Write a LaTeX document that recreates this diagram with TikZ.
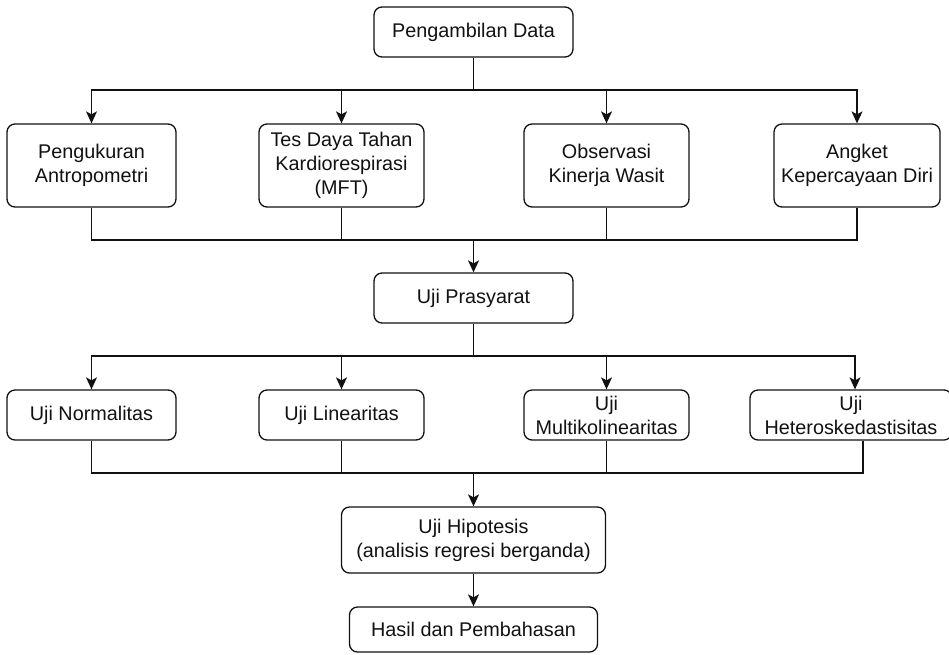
\documentclass[tikz,border=0pt]{standalone}
\usepackage{fontspec}
\setmainfont{Liberation Sans}
\usetikzlibrary{positioning,arrows.meta}
\definecolor{hitam}{HTML}{111111}

\begin{document}
\begin{tikzpicture}[x=1pt, y=-1pt, font=\fontsize{19.8}{24}\selectfont, hitam,
    kotak/.style={draw, line width=1.3pt, rounded corners=8pt, align=center, inner sep=0pt},
    panah/.style={-{Stealth[length=12pt,width=11pt,inset=3pt]}, line width=1.3pt},
    garis/.style={line width=1.3pt}]
        \useasboundingbox (0,0) rectangle (949,654);
        % tahap awal
        \node[kotak, minimum width=199pt, minimum height=50pt] (data) at (473.5,32) {Pengambilan Data};
        \node[kotak, minimum width=169pt, minimum height=83pt] (ukur) at (91.5,165.5) {Pengukuran\\Antropometri};
        \node[kotak, minimum width=165pt, minimum height=83pt] (tes) at (341.5,165.5) {Tes Daya Tahan\\Kardiorespirasi\\(MFT)};
        \node[kotak, minimum width=165pt, minimum height=83pt] (obs) at (606.5,165.5) {Observasi\\Kinerja Wasit};
        \node[kotak, minimum width=166pt, minimum height=83pt] (angket) at (857,165.5) {Angket\\Kepercayaan Diri};
        \coordinate (s1) at (473.5,90);
        \coordinate (m1) at (473.5,240);
        \draw[garis] (data) -- (s1);
        \foreach \n in {ukur,tes,obs,angket} {
            \draw[panah] (s1) -| (\n);
            \draw[garis] (\n.south) |- (m1);
        }
        % uji prasyarat
        \node[kotak, minimum width=199pt, minimum height=50pt] (prasyarat) at (473.5,298) {Uji Prasyarat};
        \draw[panah] (m1) -- (prasyarat);
        \node[kotak, minimum width=169pt, minimum height=50pt] (normal) at (91.5,415) {Uji Normalitas};
        \node[kotak, minimum width=165pt, minimum height=50pt] (linear) at (341.5,415) {Uji Linearitas};
        \node[kotak, minimum width=165pt, minimum height=50pt] (multi) at (606.5,415) {Uji\\Multikolinearitas};
        \node[kotak, minimum width=202pt, minimum height=50pt] (hetero) at (851,415) {Uji\\Heteroskedastisitas};
        \coordinate (s2) at (473.5,356);
        \coordinate (m2) at (473.5,473);
        \draw[garis] (prasyarat) -- (s2);
        \foreach \n in {normal,linear,multi} {
            \draw[panah] (s2) -| (\n);
            \draw[garis] (\n.south) |- (m2);
        }
        \draw[panah] (s2) -| ([xshift=4pt]hetero.north);
        \draw[garis] ([xshift=12pt]hetero.south) |- (m2);
        % hipotesis dan hasil
        \node[kotak, minimum width=264pt, minimum height=66pt] (hipotesis) at (473.5,540) {Uji Hipotesis\\(analisis regresi berganda)};
        \node[kotak, minimum width=248pt, minimum height=45pt] (hasil) at (473.5,629.5) {Hasil dan Pembahasan};
        \draw[panah] (m2) -- (hipotesis);
        \draw[panah] (hipotesis) -- (hasil);
      \end{tikzpicture}
\end{document}
